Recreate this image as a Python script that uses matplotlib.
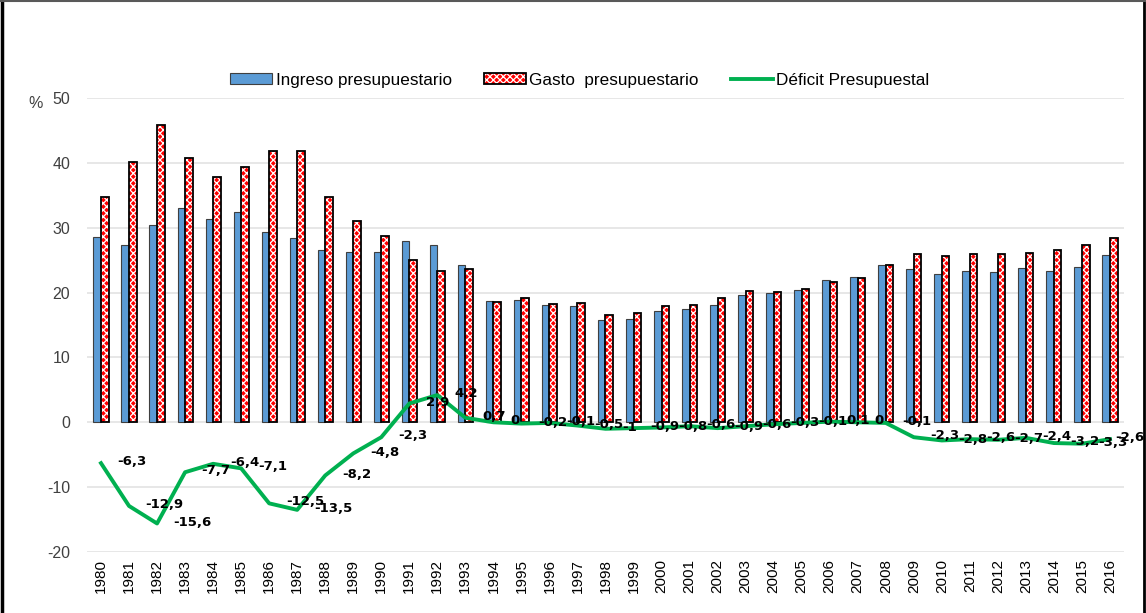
import numpy as np
import matplotlib.pyplot as plt
from matplotlib.legend_handler import HandlerTuple
from matplotlib.lines import Line2D

# Datos (% del PIB)
years = list(range(1980, 2017))
ingreso = [28.5, 27.3, 30.4, 33.1, 31.3, 32.4, 29.3, 28.4, 26.5, 26.2,
           26.2, 27.9, 27.4, 24.3, 18.7, 18.9, 18.1, 17.9, 15.7, 15.9,
           17.2, 17.4, 18.1, 19.7, 19.9, 20.4, 21.9, 22.4, 24.2, 23.7,
           22.8, 23.4, 23.2, 23.8, 23.4, 23.9, 25.8]
gasto = [34.7, 40.2, 45.9, 40.8, 37.8, 39.4, 41.9, 41.9, 34.7, 31.1,
         28.7, 25.0, 23.3, 23.6, 18.6, 19.1, 18.2, 18.4, 16.6, 16.8,
         18.0, 18.1, 19.1, 20.2, 20.1, 20.6, 21.7, 22.3, 24.3, 26.0,
         25.6, 26.0, 25.9, 26.1, 26.6, 27.4, 28.4]
deficit = [-6.3, -12.9, -15.6, -7.7, -6.4, -7.1, -12.5, -13.5, -8.2, -4.8,
           -2.3, 2.9, 4.2, 0.7, 0, -0.2, -0.1, -0.5, -1, -0.9,
           -0.8, -0.6, -0.9, -0.6, -0.3, -0.1, 0.1, 0, -0.1, -2.3,
           -2.8, -2.6, -2.7, -2.4, -3.2, -3.3, -2.6]

plt.rcParams['font.family'] = ['Liberation Sans', 'DejaVu Sans']
plt.rcParams['axes.unicode_minus'] = False
plt.rcParams['hatch.linewidth'] = 0.9

fig = plt.figure(figsize=(11.46, 6.13), dpi=100)
ax = fig.add_axes([0.0759, 0.0995, 0.9049, 0.7406])

x = np.arange(len(years))
w = 0.27

b1 = ax.bar(x - w / 2, ingreso, w, color='#5B9BD5', edgecolor='#3F3F3F', linewidth=0.8, zorder=2)
# gasto: relleno rojo con trama blanca + contorno negro
b2 = ax.bar(x + w / 2, gasto, w, color='#FF0000', edgecolor='white', hatch='xxxxx', linewidth=0, zorder=2)
b3 = ax.bar(x + w / 2, gasto, w, fill=False, edgecolor='black', linewidth=1.3, zorder=3)

ln, = ax.plot(x, deficit, color='#00B050', lw=2.8, zorder=4, solid_joinstyle='round')

for i, (xi, v) in enumerate(zip(x, deficit)):
    txt = f"{v:g}".replace('.', ',')
    dx = 12 if i < len(x) - 1 else 4
    ax.annotate(txt, (xi, v), xytext=(dx, 1), textcoords='offset points',
                ha='left', va='center', fontsize=9.5, fontweight='bold',
                family='DejaVu Sans', zorder=5, annotation_clip=False)

ax.set_xlim(-0.5, len(years) - 0.5)
ax.set_ylim(-20, 50)
ax.set_yticks(range(-20, 51, 10))
ax.set_xticks(x)
ax.set_xticklabels([str(y) for y in years], rotation=90, fontsize=11)
ax.tick_params(axis='y', length=0, pad=12, labelsize=11.5, colors='#404040')
ax.tick_params(axis='x', length=0, pad=5, colors='black')
ax.grid(axis='y', color='#E3E3E3', lw=1.2, zorder=0)
ax.set_axisbelow(True)
for s in ax.spines.values():
    s.set_visible(False)

fig.text(36 / 1146, 1 - 103 / 613, '%', fontsize=11.5, color='#404040', ha='center', va='center')

fig.legend([b1, (b2, b3), ln],
           ['Ingreso presupuestario', 'Gasto  presupuestario', 'Déficit Presupuestal'],
           handler_map={tuple: HandlerTuple(ndivide=1, pad=0)},
           loc='center', bbox_to_anchor=(580 / 1146, 1 - 80 / 613), ncol=3,
           frameon=False, fontsize=12.3, columnspacing=1.9, handlelength=2.45,
           handletextpad=0.2, handleheight=0.6)

# marco del gráfico
fig.add_artist(Line2D([0.002, 0.002], [0, 1], transform=fig.transFigure, color='black', lw=2.5))
fig.add_artist(Line2D([0.998, 0.998], [0, 1], transform=fig.transFigure, color='black', lw=2))
fig.add_artist(Line2D([0, 1], [0.998, 0.998], transform=fig.transFigure, color='#595959', lw=1.5))

fig.savefig('out.png', dpi=100)
